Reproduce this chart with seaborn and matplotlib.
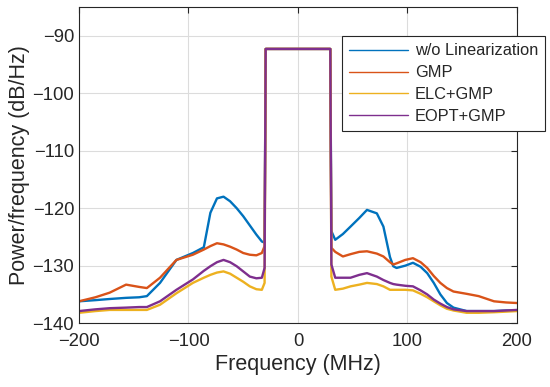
import pandas as pd
import numpy as np
import seaborn as sns
import matplotlib.pyplot as plt

# frequency grid (MHz)
freq = [-200, -185, -172, -157, -145, -138, -126, -111, -96, -86, -80, -74, -68, -62,
        -56, -50, -44, -38, -33, -30.5, -29.5, 29.5, 30.5, 34, 41, 48, 56, 63, 72, 78,
        84, 87, 90, 98, 105, 112, 118, 124, 130, 136, 142, 154, 165, 179, 190, 200]

# PSD levels (dB/Hz)
wo_lin = [-136.2, -136.0, -135.8, -135.6, -135.5, -135.3, -133.0, -129.0, -127.8, -126.8,
          -120.8, -118.3, -118.0, -118.8, -120.0, -121.4, -123.0, -124.6, -125.8, -126.0,
          -92.3, -92.3, -124.0, -125.5, -124.5, -123.2, -121.7, -120.3, -120.9, -123.2,
          -128.5, -130.1, -130.4, -130.0, -129.5, -130.2, -131.3, -133.0, -135.0, -136.5,
          -137.3, -137.9, -137.9, -137.9, -137.8, -137.8]
gmp = [-136.2, -135.5, -134.7, -133.3, -133.7, -133.9, -132.1, -129.0, -128.1, -127.2,
       -126.6, -126.1, -126.3, -126.7, -127.2, -127.8, -128.1, -128.2, -127.8, -126.6,
       -92.3, -92.3, -126.9, -127.6, -128.4, -128.0, -127.6, -127.5, -127.9, -128.4,
       -129.4, -129.8, -129.6, -129.0, -128.7, -129.4, -130.4, -131.8, -133.0, -133.9,
       -134.5, -134.9, -135.3, -136.2, -136.4, -136.5]
elc_gmp = [-138.2, -137.9, -137.7, -137.7, -137.7, -137.7, -136.8, -134.8, -133.0, -132.1,
           -131.6, -131.2, -131.0, -131.4, -132.1, -132.8, -133.6, -134.1, -134.2, -133.0,
           -92.3, -92.3, -131.9, -134.2, -134.0, -133.6, -133.3, -133.0, -133.2, -133.6,
           -134.2, -134.2, -134.2, -134.2, -134.3, -134.9, -135.5, -136.2, -136.9, -137.5,
           -137.8, -138.2, -138.2, -138.1, -138.0, -137.9]
eopt_gmp = [-137.9, -137.6, -137.4, -137.3, -137.2, -137.2, -136.2, -134.2, -132.4, -130.9,
            -130.1, -129.4, -129.0, -129.4, -130.1, -131.0, -131.9, -132.2, -132.1, -130.4,
            -92.3, -92.3, -129.8, -132.1, -132.1, -132.1, -131.6, -131.3, -131.9, -132.5,
            -133.0, -133.2, -133.3, -133.5, -133.6, -134.3, -135.0, -135.9, -136.6, -137.2,
            -137.6, -137.9, -137.9, -137.9, -137.8, -137.7]

names = ["w/o Linearization", "GMP", "ELC+GMP", "EOPT+GMP"]
colors = ["#0072BD", "#D95319", "#EDB120", "#7E2F8E"]

df = pd.concat([pd.DataFrame({"Frequency": freq, "PSD": v, "Method": n})
                for n, v in zip(names, [wo_lin, gmp, elc_gmp, eopt_gmp])])

sns.set_style("white")
plt.rcParams["font.family"] = ["Liberation Sans", "DejaVu Sans"]
plt.rcParams["text.color"] = "#262626"

fig = plt.figure(figsize=(5.5, 3.87), dpi=100)
ax = fig.add_axes([0.1436, 0.165, 0.7964, 0.817])

sns.lineplot(data=df, x="Frequency", y="PSD", hue="Method", hue_order=names,
             palette=colors, sort=False, linewidth=1.7, ax=ax)

ax.set_xlim(-200, 200)
ax.set_ylim(-140, -85)
ax.set_xticks([-200, -100, 0, 100, 200])
ax.set_yticks([-140, -130, -120, -110, -100, -90])
ax.grid(True, color="#dcdcdc", linewidth=0.8)
ax.set_axisbelow(True)
ax.tick_params(direction="in", top=True, right=True, length=4, labelsize=13.3,
               colors="#262626", width=0.8)
ax.tick_params(axis="x", pad=7)
for s in ax.spines.values():
    s.set_color("#262626")
    s.set_linewidth(0.8)
ax.set_xlabel("Frequency (MHz)", fontsize=15.5, color="#262626", labelpad=3)
ax.set_ylabel("Power/frequency (dB/Hz)", fontsize=15.5, color="#262626", labelpad=2)

ax.legend(loc="upper left", bbox_to_anchor=(0.60, 0.908), fontsize=11.8,
          frameon=True, fancybox=False, framealpha=1, edgecolor="#262626",
          handlelength=3.6, borderpad=0.45, labelspacing=0.42, handletextpad=0.4,
          borderaxespad=0)
ax.get_legend().get_frame().set_linewidth(0.8)
for line in ax.get_legend().get_lines():
    line.set_linewidth(1.0)

fig.savefig("out.png", dpi=100)
